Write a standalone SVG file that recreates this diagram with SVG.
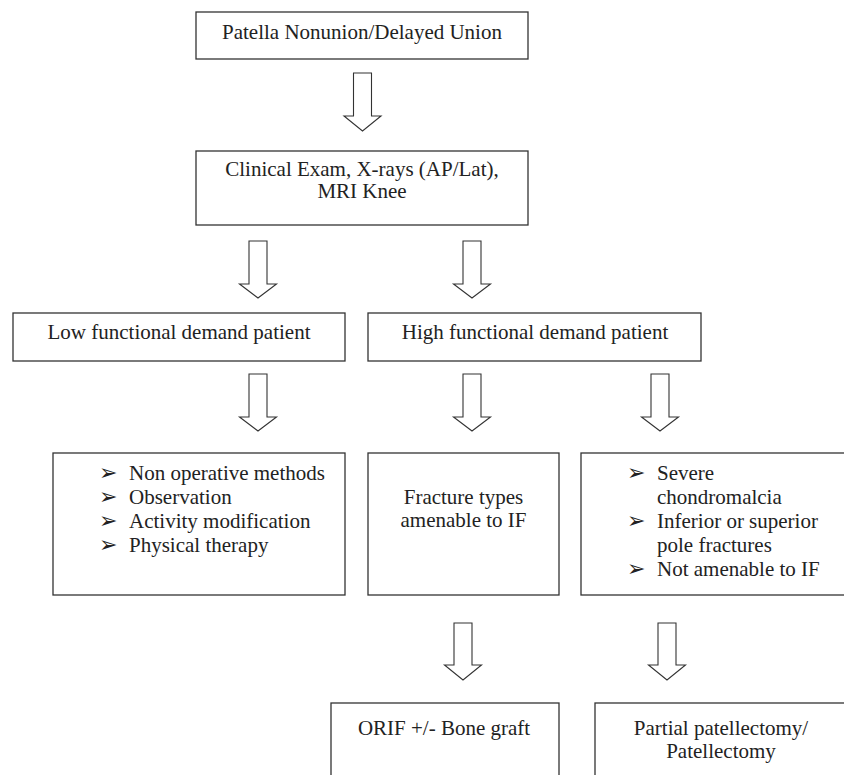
<svg xmlns="http://www.w3.org/2000/svg" width="844" height="775" viewBox="0 0 844 775">
<style>
.box{fill:#fff;stroke:#333;stroke-width:1.3}
.arr{fill:#fff;stroke:#333;stroke-width:1.1;stroke-linejoin:miter}
text{font-family:"Liberation Serif","Times New Roman",serif;font-size:21px;fill:#222}
.c{text-anchor:middle}
.b{font-family:"DejaVu Sans",sans-serif;font-size:22px}
</style>
<rect width="844" height="775" fill="#fff"/>
<g id="connectors">
<path class="arr" d="M353.5 73 H371.5 V116 H381 L362.5 131 L344 116 H353.5 Z"/>
<path class="arr" d="M249 241 H267 V284 H276.5 L258 298 L239.5 284 H249 Z"/>
<path class="arr" d="M463 241 H481 V284 H490.5 L472 298 L453.5 284 H463 Z"/>
<path class="arr" d="M249 374 H267 V417 H276.5 L258 431 L239.5 417 H249 Z"/>
<path class="arr" d="M463 374 H481 V417 H490.5 L472 431 L453.5 417 H463 Z"/>
<path class="arr" d="M651 374 H669 V417 H678.5 L660 431 L641.5 417 H651 Z"/>
<path class="arr" d="M454 623 H472 V665 H481.5 L463 680 L444.5 665 H454 Z"/>
<path class="arr" d="M658 623 H676 V665 H685.5 L667 680 L648.5 665 H658 Z"/>
</g>
<g id="n1">
<rect class="box" x="196" y="12" width="332" height="47"/>
<text class="c" x="362" y="39">Patella Nonunion/Delayed Union</text>
</g>
<g id="n2">
<rect class="box" x="196" y="151" width="332" height="74"/>
<text class="c" x="362" y="176">Clinical Exam, X-rays (AP/Lat),</text>
<text class="c" x="362" y="198">MRI Knee</text>
</g>
<g id="n3">
<rect class="box" x="13" y="313" width="332" height="48"/>
<text class="c" x="179" y="339">Low functional demand patient</text>
</g>
<g id="n4">
<rect class="box" x="368" y="313" width="333" height="48"/>
<text class="c" x="535" y="339">High functional demand patient</text>
</g>
<g id="n5">
<rect class="box" x="53" y="453" width="292" height="142"/>
<text class="b" x="99" y="480">➢</text>
<text x="129" y="480">Non operative methods</text>
<text class="b" x="99" y="504">➢</text>
<text x="129" y="504">Observation</text>
<text class="b" x="99" y="528">➢</text>
<text x="129" y="528">Activity modification</text>
<text class="b" x="99" y="552">➢</text>
<text x="129" y="552">Physical therapy</text>
</g>
<g id="n6">
<rect class="box" x="368" y="453" width="191" height="142"/>
<text class="c" x="463.5" y="504">Fracture types</text>
<text class="c" x="463.5" y="527">amenable to IF</text>
</g>
<g id="n7">
<rect class="box" x="581" y="453" width="270" height="142"/>
<text class="b" x="627" y="480">➢</text>
<text x="657" y="480">Severe</text>
<text x="657" y="504">chondromalcia</text>
<text class="b" x="627" y="528">➢</text>
<text x="657" y="528">Inferior or superior</text>
<text x="657" y="552">pole fractures</text>
<text class="b" x="627" y="576">➢</text>
<text x="657" y="576">Not amenable to IF</text>
</g>
<g id="n8">
<rect class="box" x="331" y="703" width="228" height="90"/>
<text class="c" x="444" y="735">ORIF +/- Bone graft</text>
</g>
<g id="n9">
<rect class="box" x="595" y="703" width="260" height="90"/>
<text class="c" x="721" y="735">Partial patellectomy/</text>
<text class="c" x="721" y="758">Patellectomy</text>
</g>
</svg>
